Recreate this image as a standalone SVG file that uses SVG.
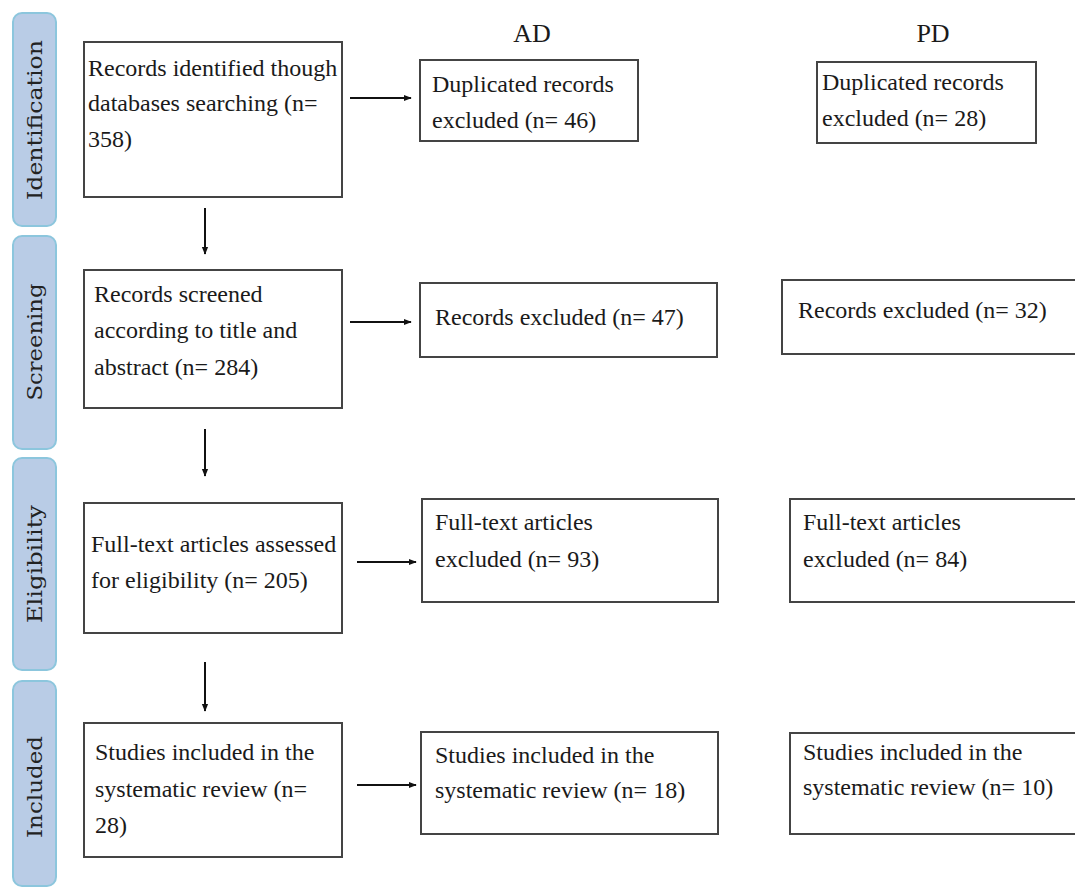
<svg xmlns="http://www.w3.org/2000/svg" width="1075" height="888" viewBox="0 0 1075 888">
<defs>
<marker id="ah" viewBox="0 0 10 10" refX="9" refY="5" markerWidth="8" markerHeight="8" markerUnits="userSpaceOnUse" orient="auto">
<path d="M0,1 L10,5 L0,9 z" fill="#111"/>
</marker>
<style>
.bar{fill:#b9cce6;stroke:#8cc6dd;stroke-width:2}
.box{fill:#fff;stroke:#444;stroke-width:2}
.t{font-family:"Liberation Serif","Times New Roman",serif;font-size:24px;fill:#1a1a1a}
.h{font-family:"Liberation Serif","Times New Roman",serif;font-size:26px;fill:#1a1a1a}
.s{font-family:"DejaVu Serif","Liberation Serif",serif;font-size:21px;fill:#222;text-anchor:middle}
.c{stroke:#111;stroke-width:2;fill:none;marker-end:url(#ah)}
</style>
</defs>
<rect width="1075" height="888" fill="#fff"/>

<g id="stage-identification"><rect class="bar" x="13" y="13" width="43" height="213" rx="9"/><text class="s" transform="translate(42,120) rotate(-90)" textLength="160" lengthAdjust="spacingAndGlyphs">Identification</text></g>
<g id="stage-screening"><rect class="bar" x="13" y="236" width="43" height="213" rx="9"/><text class="s" transform="translate(42,342) rotate(-90)" textLength="117" lengthAdjust="spacingAndGlyphs">Screening</text></g>
<g id="stage-eligibility"><rect class="bar" x="13" y="458" width="43" height="212" rx="9"/><text class="s" transform="translate(42,564) rotate(-90)" textLength="118" lengthAdjust="spacingAndGlyphs">Eligibility</text></g>
<g id="stage-included"><rect class="bar" x="13" y="681" width="43" height="205" rx="9"/><text class="s" transform="translate(42,787) rotate(-90)" textLength="102" lengthAdjust="spacingAndGlyphs">Included</text></g>

<g id="hdr-ad"><text class="h" x="532" y="42" text-anchor="middle">AD</text></g>
<g id="hdr-pd"><text class="h" x="933" y="42" text-anchor="middle">PD</text></g>

<g id="n-identified"><rect class="box" x="84" y="42" width="258" height="155"/><text class="t" x="88" y="76">Records identified though</text><text class="t" x="88" y="111">databases searching (n=</text><text class="t" x="88" y="147">358)</text></g>
<g id="n-screened"><rect class="box" x="84" y="270" width="258" height="138"/><text class="t" x="94" y="302">Records screened</text><text class="t" x="94" y="338">according to title and</text><text class="t" x="94" y="375">abstract (n= 284)</text></g>
<g id="n-eligibility"><rect class="box" x="84" y="503" width="258" height="130"/><text class="t" x="91" y="552">Full-text articles assessed</text><text class="t" x="91" y="588">for eligibility (n= 205)</text></g>
<g id="n-included"><rect class="box" x="84" y="723" width="258" height="134"/><text class="t" x="95" y="760">Studies included in the</text><text class="t" x="95" y="797">systematic review (n=</text><text class="t" x="95" y="833">28)</text></g>

<g id="ad-dup"><rect class="box" x="420" y="60" width="218" height="81"/><text class="t" x="432" y="92">Duplicated records</text><text class="t" x="432" y="128">excluded (n= 46)</text></g>
<g id="ad-scr"><rect class="box" x="420" y="283" width="297" height="74"/><text class="t" x="435" y="325">Records excluded (n= 47)</text></g>
<g id="ad-elig"><rect class="box" x="422" y="499" width="296" height="103"/><text class="t" x="435" y="530">Full-text articles</text><text class="t" x="435" y="567">excluded (n= 93)</text></g>
<g id="ad-inc"><rect class="box" x="421" y="732" width="297" height="102"/><text class="t" x="435" y="763">Studies included in the</text><text class="t" x="435" y="798">systematic review (n= 18)</text></g>

<g id="pd-dup"><rect class="box" x="817" y="62" width="219" height="81"/><text class="t" x="822" y="90">Duplicated records</text><text class="t" x="822" y="126">excluded (n= 28)</text></g>
<g id="pd-scr"><rect class="box" x="782" y="280" width="300" height="74"/><text class="t" x="798" y="318">Records excluded (n= 32)</text></g>
<g id="pd-elig"><rect class="box" x="790" y="499" width="300" height="103"/><text class="t" x="803" y="530">Full-text articles</text><text class="t" x="803" y="567">excluded (n= 84)</text></g>
<g id="pd-inc"><rect class="box" x="790" y="733" width="300" height="101"/><text class="t" x="803" y="760">Studies included in the</text><text class="t" x="803" y="795">systematic review (n= 10)</text></g>

<g id="connectors">
<line class="c" x1="205" y1="208" x2="205" y2="254"/>
<line class="c" x1="205" y1="429" x2="205" y2="476"/>
<line class="c" x1="205" y1="662" x2="205" y2="711"/>
<line class="c" x1="350" y1="98" x2="411" y2="98"/>
<line class="c" x1="350" y1="322" x2="411" y2="322"/>
<line class="c" x1="357" y1="562" x2="416" y2="562"/>
<line class="c" x1="357" y1="785" x2="416" y2="785"/>
</g>
</svg>
